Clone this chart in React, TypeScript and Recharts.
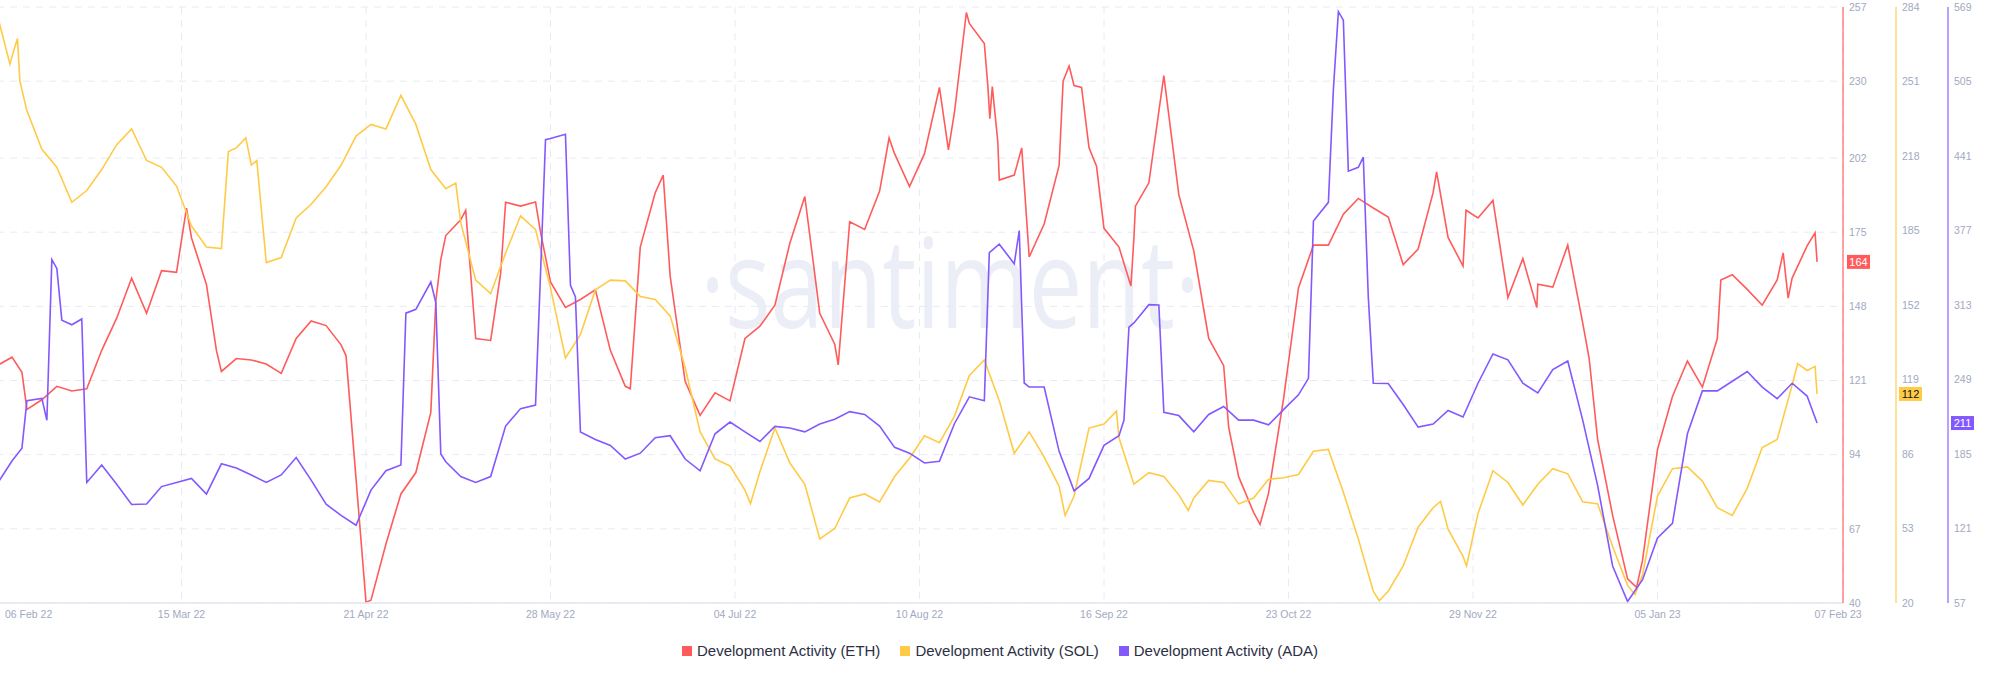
import React from 'react';
import { LineChart, Line, XAxis, YAxis, CartesianGrid, ReferenceLine } from 'recharts';

// day index counted from 06 Feb 22, sampled every 3 days
const days = [
  0, 3, 6, 9, 12, 15, 18, 21, 24, 27, 30, 33, 36, 39, 42, 45, 48, 51, 54, 57,
  60, 63, 66, 69, 72, 75, 78, 81, 84, 87, 90, 93, 96, 99, 102, 105, 108, 111, 114, 117,
  120, 123, 126, 129, 132, 135, 138, 141, 144, 147, 150, 153, 156, 159, 162, 165, 168, 171, 174, 177,
  180, 183, 186, 189, 192, 195, 198, 201, 204, 207, 210, 213, 216, 219, 222, 225, 228, 231, 234, 237,
  240, 243, 246, 249, 252, 255, 258, 261, 264, 267, 270, 273, 276, 279, 282, 285, 288, 291, 294, 297,
  300, 303, 306, 309, 312, 315, 318, 321, 324, 327, 330, 333, 336, 339, 342, 345, 348, 351, 354, 357,
  360, 363, 365,
];

const ethActivity = [
  126.4, 129.5, 110.5, 114, 118.9, 117.2, 118, 132, 143.7, 158.3,
  145.5, 161, 160.4, 173, 156, 124.3, 129, 128.5, 127, 123.6,
  136.3, 142.7, 141, 134, 85.3, 41, 61.5, 79.7, 87.5, 109.4,
  173.8, 179.5, 136.3, 135.6, 185.9, 184.5, 186, 156.9, 147.6, 150.5,
  154, 132, 118.9, 169.6, 189.4, 159, 120.7, 108.3, 116.5, 113.6,
  136.3, 140.8, 148.4, 171, 188, 145.5, 134.2, 178.8, 176, 190,
  203.6, 191.6, 203.6, 227.7, 218.5, 251, 243.7, 194, 195.8, 166,
  178, 199.3, 228.4, 205.7, 176.4, 169.6, 173, 193, 232, 188.7,
  168.2, 136.3, 126.4, 86, 73, 80, 114.2, 154.7, 170.3, 170.3,
  181.6, 187.3, 183.8, 180.5, 163.2, 168.9, 189.4, 173.1, 162.7, 180.2,
  186.6, 151.2, 165.4, 156.1, 155, 170.3, 142, 99.5, 71.9, 48.8,
  55.6, 95.9, 115.2, 128.1, 118.6, 136.3, 159.5, 154.2, 148.4, 157.6,
  158.3, 170, 164.2,
];

const solActivity = [
  281, 262, 238, 221, 213, 197.5, 202.7, 212, 223, 230,
  216, 213, 204.7, 187, 177.7, 177, 221.6, 214, 170.8, 173,
  190.6, 196.6, 204.4, 213.9, 226.8, 232, 230, 244.9, 232, 212,
  203.5, 188.5, 163, 157, 175, 191.5, 185.4, 159.6, 128.6, 138.9,
  158.7, 163, 162.7, 155.8, 154.4, 147.2, 124.3, 95.8, 83.8, 80.7,
  70, 78.2, 97.5, 82, 72.6, 48.4, 53, 66.5, 68.3, 64.8,
  76, 84.1, 94.1, 91, 102.7, 120.8, 127.7, 109.6, 86.3, 95.8,
  84.6, 71.7, 67.4, 97.5, 99.3, 93.2, 72.6, 77.7, 76, 67.9,
  66.5, 74.3, 73.4, 63.9, 66.5, 74.8, 75.5, 76.9, 87.2, 88,
  69.1, 48.4, 25.2, 25.2, 36.4, 53.6, 62.2, 52.7, 40.7, 59.6,
  78.6, 73.4, 63.4, 72.6, 79.5, 77.2, 64.8, 63.9, 45, 27.8,
  32.4, 67.4, 79.5, 80.3, 74, 62.2, 58.8, 70.8, 88.9, 92.4,
  116.5, 123, 112.6,
];

const adaActivity = [
  159, 179, 230.8, 232.8, 344.4, 296, 160.6, 175.6, 159, 141.6,
  142, 157, 160.6, 164, 150.6, 176.6, 173, 167, 160.6, 167,
  182, 162.6, 141.9, 132.2, 123.8, 154, 170.6, 175.6, 309.3, 332.7,
  178.3, 165.6, 160.6, 165.6, 209, 224, 227, 456, 459.7, 204,
  197.4, 192.4, 180.7, 185.7, 199, 200.7, 180.7, 170.6, 202.4, 212.4,
  204, 195.7, 208.7, 207.4, 204, 210.7, 214.8, 221.4, 219, 209,
  190.7, 185.7, 177.3, 178.7, 211, 234.1, 230.8, 365.2, 348.4, 242.5,
  242.5, 187.3, 153.3, 164, 192.4, 200.7, 297.6, 313.3, 220.8, 218,
  204, 219, 225.8, 214.1, 214.1, 210.1, 223.1, 235.8, 385.2, 401.2,
  557.7, 431.3, 245.8, 245.5, 227.5, 208.1, 210.7, 222.4, 216.8, 245.8,
  270.9, 265.9, 245.8, 237.5, 257.5, 264.9, 214.1, 157.9, 88.8, 58.3,
  77, 112.8, 125.5, 202.4, 239.2, 239.2, 247.5, 255.9, 242.5, 232.5,
  245.8, 234.8, 211.6,
];

// extra readings [day, value] at the edges of sharp jumps and spikes
const ethExtra = [
  [5, 124], [38, 183.8], [44, 132], [70, 130], [74, 40.3], [88, 150], [89, 165], [94, 183],
  [101, 160], [109, 175], [127, 118], [133.6, 195.8], [168.7, 126.7], [178.9, 209.3],
  [190.8, 205], [194.4, 255], [198.7, 228.4], [199.1, 216.3], [199.6, 228], [200.7, 208],
  [205.5, 205.7], [213.8, 230], [215, 235.5], [217.5, 227.7], [220.5, 199], [227.4, 155.4],
  [228.3, 184.5], [247, 104], [253.3, 68.6], [288.7, 197], [294.6, 183], [308.8, 147.6],
  [319.3, 129], [328.8, 45.7], [345.7, 157.6], [358.2, 167.5], [359.2, 151], [364.6, 174.8],
];
const solExtra = [
  [2.6, 258.7], [4.1, 270], [4.6, 251], [46.4, 220], [49.9, 226], [52.1, 216], [92, 206],
  [151.1, 64], [214.2, 58.8], [224.5, 105], [238.9, 61], [277.2, 21], [289.5, 65],
  [294.7, 36.4], [328.5, 23.8], [361.1, 126], [364.6, 124.8],
];
const adaExtra = [
  [5, 190], [10, 214], [11, 352], [13, 300], [17, 301], [82, 306], [88, 315], [89, 185],
  [109, 340], [110, 455], [115, 330], [116, 320], [199, 358], [205, 377], [206, 246],
  [226, 214], [227, 294], [233, 313], [263, 250], [268, 498], [269, 565], [271, 428],
  [274, 440], [275, 320],
];

const xTicks = [0, 37, 74, 111, 148, 185, 222, 259, 296, 333, 366];
const xTickLabels = [
  '06 Feb 22', '15 Mar 22', '21 Apr 22', '28 May 22', '04 Jul 22', '10 Aug 22',
  '16 Sep 22', '23 Oct 22', '29 Nov 22', '05 Jan 23', '07 Feb 23',
];

const ethTicks = [40, 67, 94, 121, 148, 175, 202, 230, 257];
const solTicks = [20, 53, 86, 119, 152, 185, 218, 251, 284];
const adaTicks = [57, 121, 185, 249, 313, 377, 441, 505, 569];

const buildPoints = (values: number[], extra: number[][]) => {
  const pts = days.map((day, i) => ({ day, v: values[i] }));
  extra.forEach(([day, v]) => pts.push({ day, v }));
  return pts.sort((a, b) => a.day - b.day);
};

// axis ids sort in the order the axes sit to the right of the plot
const series = [
  { key: 'eth', axisId: 'y1', name: 'Development Activity (ETH)', color: '#FF5B5B', badgeText: '#ffffff', ticks: ethTicks, values: ethActivity, extra: ethExtra, width: 53, badgeDx: 4 },
  { key: 'sol', axisId: 'y2', name: 'Development Activity (SOL)', color: '#FFCB47', badgeText: '#111111', ticks: solTicks, values: solActivity, extra: solExtra, width: 52, badgeDx: 56 },
  { key: 'ada', axisId: 'y3', name: 'Development Activity (ADA)', color: '#8358FF', badgeText: '#ffffff', ticks: adaTicks, values: adaActivity, extra: adaExtra, width: 52, badgeDx: 108 },
];

const FONT = '"Liberation Sans", Arial, sans-serif';
const TICK_COLOR = '#a2a9c1';
const GRID_COLOR = '#e8eaf3';

const DateTick = (props: any) => {
  const { x, y, payload } = props;
  const idx = xTicks.indexOf(payload.value);
  const first = idx === 0;
  const last = idx === xTicks.length - 1;
  return (
    <text
      x={x + (first ? 8 : last ? 16 : 0)}
      y={y}
      dy="0.71em"
      textAnchor={first ? 'start' : 'middle'}
      fill={TICK_COLOR}
      fontSize={10.5}
      fontFamily={FONT}
    >
      {xTickLabels[idx]}
    </text>
  );
};

// last-value badge drawn next to the matching axis
const Badge = (props: any) => {
  const { viewBox, dx, fill, textColor, text } = props;
  if (!viewBox) return null;
  const left = viewBox.x + viewBox.width + dx;
  const cy = viewBox.y;
  return (
    <g>
      <rect x={left} y={cy - 7} width={23} height={14} fill={fill} />
      <text
        x={left + 11.5}
        y={cy}
        dy="0.36em"
        textAnchor="middle"
        fill={textColor}
        fontSize={11}
        fontWeight={500}
        fontFamily={FONT}
      >
        {text}
      </text>
    </g>
  );
};

const VerticalGridLine = (props: any) => {
  const { x1, y1, x2, y2, index } = props;
  if (index === xTicks.length - 1) return <g />;
  return <line x1={x1} y1={y1} x2={x2} y2={y2} stroke={GRID_COLOR} strokeDasharray="7 6" />;
};

export default function App() {
  return (
    <div style={{ position: 'absolute', left: 0, top: 0, width: 2000, height: 677, overflow: 'hidden', background: '#fff' }}>
      {/* watermark */}
      <svg width={2000} height={677} style={{ position: 'absolute', left: 0, top: 0 }}>
        <text
          x={700}
          y={328}
          textLength={500}
          lengthAdjust="spacingAndGlyphs"
          fontFamily='"Open Sans", sans-serif'
          fontSize={124}
          fill="#ebeef6"
        >
          ·santiment·
        </text>
      </svg>

      <div style={{ position: 'absolute', left: -3, top: 0 }}>
        <LineChart width={2003} height={640} margin={{ top: 7, right: 0, bottom: 7, left: 0 }}>
          <CartesianGrid
            yAxisId="y1"
            stroke={GRID_COLOR}
            strokeDasharray="7 6"
            vertical={<VerticalGridLine />}
          />
          <XAxis
            dataKey="day"
            type="number"
            domain={[0, 370.2]}
            ticks={xTicks}
            interval={0}
            tick={<DateTick />}
            tickLine={false}
            axisLine={{ stroke: '#e3e6f0', strokeWidth: 1.5 }}
            height={30}
            allowDuplicatedCategory={false}
          />
          {series.map((s) => (
            <YAxis
              key={s.key}
              yAxisId={s.axisId}
              orientation="right"
              domain={[s.ticks[0], s.ticks[s.ticks.length - 1]]}
              ticks={s.ticks}
              interval={0}
              width={s.width}
              tickLine={false}
              tickSize={0}
              tickMargin={6}
              axisLine={{ stroke: s.color, strokeWidth: 1.5, strokeOpacity: 0.75 }}
              tick={{ fill: TICK_COLOR, fontSize: 10.5, fontFamily: FONT }}
            />
          ))}
          {series.map((s) => (
            <Line
              key={s.key}
              yAxisId={s.axisId}
              data={buildPoints(s.values, s.extra)}
              dataKey="v"
              name={s.name}
              type="linear"
              stroke={s.color}
              strokeWidth={1.6}
              dot={false}
              activeDot={false}
              isAnimationActive={false}
            />
          ))}
          {series.map((s) => (
            <ReferenceLine
              key={`badge-${s.key}`}
              yAxisId={s.axisId}
              y={s.values[s.values.length - 1]}
              stroke="none"
              ifOverflow="visible"
              label={
                <Badge
                  dx={s.badgeDx}
                  fill={s.color}
                  textColor={s.badgeText}
                  text={String(Math.floor(s.values[s.values.length - 1]))}
                />
              }
            />
          ))}
        </LineChart>
      </div>

      <div
        style={{
          position: 'absolute',
          left: 0,
          top: 641,
          width: 2000,
          display: 'flex',
          justifyContent: 'center',
          fontFamily: FONT,
          fontSize: 15,
          lineHeight: '20px',
          color: '#2c3044',
        }}
      >
        {series.map((s) => (
          <div key={s.key} style={{ display: 'flex', alignItems: 'center', margin: '0 10px' }}>
            <span style={{ width: 10, height: 10, background: s.color, marginRight: 5, display: 'inline-block' }} />
            <span>{s.name}</span>
          </div>
        ))}
      </div>
    </div>
  );
}
